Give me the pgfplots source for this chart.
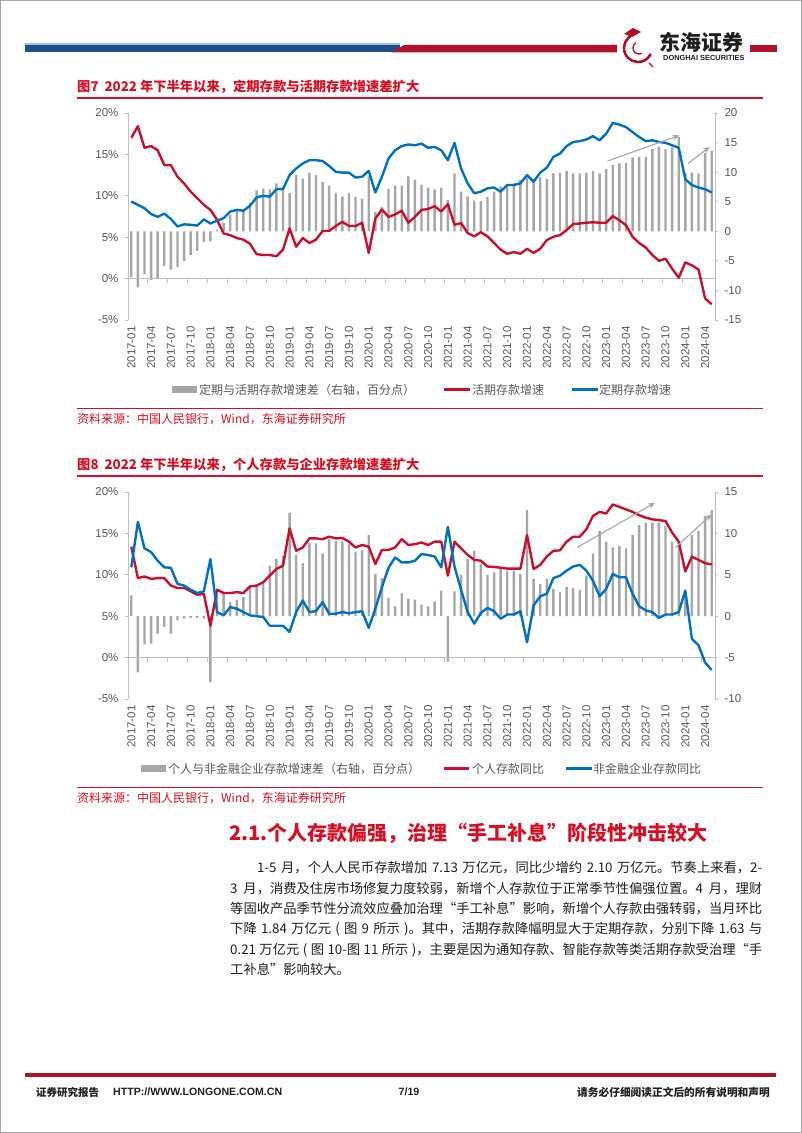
\documentclass[border=0pt]{standalone}
\usepackage{pgfplots}
\pgfplotsset{compat=1.18}
\usepackage{pgfplotstable}
\usepackage{fontspec}
\setmainfont{Liberation Sans}
\newfontfamily\cjk{Noto Sans CJK SC}
\usetikzlibrary{arrows.meta}
\XeTeXlinebreaklocale "zh"
\XeTeXlinebreakskip=0pt plus 1pt

\definecolor{cred}{HTML}{C8102E}
\definecolor{cblue}{HTML}{0070C0}
\definecolor{cbar}{HTML}{A6A6A6}
\definecolor{caxis}{HTML}{BFBFBF}
\definecolor{ctext}{HTML}{595959}
\definecolor{ctitle}{HTML}{D50F25}
\definecolor{hred}{HTML}{B0102A}
\definecolor{hblue}{HTML}{1F4E8C}
\definecolor{hlblue}{HTML}{9DC3E6}
\definecolor{cdark}{HTML}{1F1F1F}

\newcommand\fs[1]{\fontsize{#1}{#1}\selectfont}

% chart 7: spread (right axis), demand deposits, time deposits
\pgfplotstableread{
i bar red blue
0 -7.7 17.0 9.3
1 -9.5 18.4 8.9
2 -7.3 15.8 8.5
3 -8.2 16.0 7.8
4 -8.0 15.5 7.45
5 -5.9 13.7 7.85
6 -6.5 13.7 7.2
7 -6.0 12.3 6.3
8 -5.0 11.5 6.55
9 -4.0 10.5 6.5
10 -3.3 9.7 6.4
11 -1.8 8.9 7.15
12 -1.7 8.3 6.65
13 0.3 7.1 7.0
14 1.4 5.45 7.3
15 2.8 5.25 8.1
16 3.4 4.9 8.3
17 3.6 4.7 8.2
18 4.8 4.2 8.8
19 6.9 2.95 9.8
20 7.2 2.85 10.0
21 7.1 2.85 9.9
22 8.1 2.7 10.8
23 7.6 3.5 10.8
24 6.5 6.05 12.5
25 9.5 3.85 13.3
26 8.9 4.9 13.9
27 9.9 4.3 14.3
28 9.5 4.7 14.3
29 8.3 5.75 14.2
30 7.7 5.75 13.6
31 6.5 6.35 12.9
32 5.9 6.85 12.8
33 6.5 6.35 12.8
34 5.8 6.35 12.2
35 5.5 6.75 12.3
36 9.3 3.1 13.0
37 3.3 7.25 10.4
38 4.1 8.35 12.3
39 7.2 7.45 14.5
40 7.7 7.75 15.5
41 7.7 8.2 16.0
42 9.3 6.75 16.2
43 8.7 7.45 16.1
44 7.9 8.3 16.3
45 7.4 8.4 15.8
46 7.1 8.75 15.9
47 7.4 8.1 15.5
48 5.3 9.0 14.3
49 9.8 6.5 16.4
50 6.7 6.7 13.3
51 5.9 5.5 11.5
52 5.2 5.1 10.3
53 5.1 5.6 10.5
54 5.8 5.1 10.9
55 6.7 4.3 11.0
56 7.6 3.5 10.5
57 7.8 3.0 11.3
58 8.1 3.2 11.3
59 8.7 3.0 11.5
60 9.0 3.6 12.5
61 8.9 3.1 11.7
62 9.2 3.6 12.8
63 8.8 4.65 13.4
64 9.8 5.05 14.7
65 9.9 5.25 15.1
66 10.2 5.85 16.0
67 9.8 6.6 16.5
68 9.8 6.65 16.6
69 9.9 6.75 16.8
70 10.2 6.8 17.2
71 9.8 6.75 16.7
72 10.5 6.75 17.5
73 11.2 7.55 18.8
74 11.5 7.05 18.6
75 11.6 6.45 18.3
76 12.5 5.05 17.7
77 12.6 4.3 17.1
78 12.6 3.75 16.6
79 13.9 2.85 16.7
80 14.3 2.15 16.5
81 13.9 2.4 16.4
82 14.2 1.2 16.1
83 15.9 0.1 15.8
84 9.9 1.95 12.0
85 9.9 1.6 11.3
86 9.8 1.1 11.0
87 13.2 -2.4 10.8
88 13.6 -3.1 10.4
}\tabA

% chart 8: spread (right axis), household deposits, corporate deposits
\pgfplotstableread{
i bar red blue
0 2.5 13.4 10.9
1 -6.8 9.6 16.4
2 -3.4 9.8 13.2
3 -3.3 9.5 12.75
4 -2.1 9.6 11.7
5 -1.3 9.6 10.9
6 -2.1 8.7 10.85
7 -0.5 8.4 8.9
8 -0.3 8.4 8.7
9 -0.2 8.0 8.2
10 -0.2 7.6 7.8
11 -0.3 7.7 8.0
12 -8.0 3.85 11.9
13 2.7 8.2 5.5
14 2.7 7.8 5.1
15 1.7 7.8 6.1
16 2.0 7.9 5.9
17 2.3 7.8 5.5
18 3.5 8.6 5.1
19 3.7 8.7 5.0
20 4.2 9.1 4.9
21 6.1 9.9 3.85
22 6.9 10.7 3.85
23 7.3 11.1 3.85
24 12.5 15.6 3.1
25 7.4 12.9 5.5
26 6.4 13.3 6.9
27 8.9 14.4 5.5
28 8.8 14.4 5.6
29 7.6 14.3 6.7
30 9.3 14.6 5.3
31 9.1 14.4 5.3
32 9.0 14.45 5.5
33 8.7 14.0 5.35
34 7.8 13.3 5.5
35 8.0 13.6 5.6
36 9.8 13.4 3.6
37 5.1 11.3 5.9
38 4.6 13.0 8.5
39 2.2 13.0 10.85
40 1.2 13.3 12.1
41 2.8 14.3 11.5
42 2.1 13.6 11.5
43 2.0 13.7 11.7
44 1.4 13.9 12.5
45 1.2 13.6 12.4
46 1.8 14.0 12.2
47 3.1 14.0 10.9
48 -5.5 9.9 15.8
49 3.0 14.0 11.0
50 5.0 13.2 8.2
51 6.9 12.4 5.5
52 7.9 11.8 4.1
53 6.3 11.7 5.4
54 5.0 11.0 6.0
55 5.3 10.95 5.6
56 6.0 10.85 4.7
57 5.5 10.75 5.2
58 5.5 10.75 5.2
59 5.1 10.75 5.6
60 12.8 14.8 1.85
61 4.5 10.7 6.3
62 3.9 11.2 7.4
63 4.5 12.2 7.7
64 3.3 12.9 9.6
65 2.9 12.95 9.9
66 3.5 14.0 10.5
67 3.4 14.6 11.0
68 3.2 14.6 11.2
69 4.9 15.5 10.5
70 7.6 17.1 9.3
71 10.3 17.6 7.4
72 9.0 17.4 8.3
73 8.3 18.5 10.1
74 8.5 18.2 9.7
75 8.2 17.9 9.7
76 9.8 17.6 7.7
77 11.0 17.2 6.2
78 11.3 16.9 5.7
79 11.3 16.7 5.5
80 11.3 16.6 4.8
81 10.9 16.5 5.2
82 9.0 15.1 5.2
83 8.5 14.0 5.5
84 2.3 10.4 8.1
85 9.8 12.2 2.25
86 10.3 11.8 1.5
87 12.1 11.4 -0.6
88 12.8 11.25 -1.5
}\tabB

\tikzset{
  dline/.style={line width=2.4pt, line join=round},
  arr/.style={cbar, line width=1.1pt, -{Stealth[length=7pt,width=6pt]}},
}
\pgfplotsset{
  pagebase/.style={scale only axis, width=587pt, height=207pt,
    xmin=-0.5, xmax=88.5, anchor=south west,
    tick align=outside, major tick length=3pt,
    axis line style={-, caxis, line width=0.8pt},
    ytick style={caxis, line width=0.8pt},
    yticklabel style={font=\fs{11.5}, text=ctext}},
  lineax/.style={pagebase, clip=false,
    axis y line*=left, axis x line*=bottom,
    x axis line style={draw=none}, xtick style={draw=none},
    xtick={0,3,...,87},
    xticklabels={2017-01,2017-04,2017-07,2017-10,2018-01,2018-04,2018-07,2018-10,2019-01,2019-04,2019-07,2019-10,2020-01,2020-04,2020-07,2020-10,2021-01,2021-04,2021-07,2021-10,2022-01,2022-04,2022-07,2022-10,2023-01,2023-04,2023-07,2023-10,2024-01,2024-04},
    xticklabel style={rotate=90, anchor=east, font=\fs{11.5}, text=ctext},
    ymin=-5, ymax=20, ytick={-5,0,...,20},
    yticklabels={-5\%,0\%,5\%,10\%,15\%,20\%},
    yticklabel style={xshift=-3pt}},
  barax/.style={pagebase, axis x line=none, axis y line*=right,
    yticklabel style={xshift=3pt}},
}

\begin{document}
\begin{tikzpicture}
\path[use as bounding box, fill=white] (0,0) rectangle (802pt,1133pt);

% ---------- chart 7 ----------
\begin{axis}[barax, at={(128pt,813pt)}, ymin=-15, ymax=20, ytick={-15,-10,...,20},
  yticklabels={-15,-10,-5,0,5,10,15,20}]
  \addplot[ybar, bar width=2.4pt, bar shift=0pt, fill=cbar, draw=none] table[x=i,y=bar] {\tabA};
\end{axis}
\begin{axis}[lineax, at={(128pt,813pt)}]
  \draw[caxis, line width=0.8pt] (axis cs:-0.5,0) -- (axis cs:88.5,0);
  \pgfplotsinvokeforeach{-0.5,2.5,...,86.5}{\draw[caxis, line width=0.8pt] (axis cs:#1,0) -- ++(0pt,-4pt);}
  \addplot[dline, cred, no markers] table[x=i,y=red] {\tabA};
  \addplot[dline, cblue, no markers] table[x=i,y=blue] {\tabA};
  \draw[arr] (axis cs:72.2,14.2) -- (axis cs:83.1,17.3);
  \draw[arr] (axis cs:84.4,13.9) -- (axis cs:87.7,15.9);
\end{axis}

% ---------- chart 8 ----------
\begin{axis}[barax, at={(128pt,434pt)}, ymin=-10, ymax=15, ytick={-10,-5,...,15},
  yticklabels={-10,-5,0,5,10,15}]
  \addplot[ybar, bar width=2.4pt, bar shift=0pt, fill=cbar, draw=none] table[x=i,y=bar] {\tabB};
\end{axis}
\begin{axis}[lineax, at={(128pt,434pt)}]
  \draw[caxis, line width=0.8pt] (axis cs:-0.5,0) -- (axis cs:88.5,0);
  \pgfplotsinvokeforeach{-0.5,2.5,...,86.5}{\draw[caxis, line width=0.8pt] (axis cs:#1,0) -- ++(0pt,-4pt);}
  \addplot[dline, cred, no markers] table[x=i,y=red] {\tabB};
  \addplot[dline, cblue, no markers] table[x=i,y=blue] {\tabB};
  \draw[arr] (axis cs:67.6,13.3) -- (axis cs:79.4,18.7);
  \draw[arr] (axis cs:82.5,13.3) -- (axis cs:88.0,17.3);
\end{axis}

\begin{scope}[x=1pt, y=1pt]
% page frame
\draw[gray!70, line width=1pt] (0.5,0.5) rectangle (801.5,1132.5);

% header
\fill[hblue] (25,1080.5) rectangle (400,1088);
\fill[hlblue] (25,1088) rectangle (400,1089.5);
\fill[hred] (391,1080.5) -- (404,1088) -- (617,1088) -- (617,1080.5) -- cycle;
\fill[hred] (750,1080.5) rectangle (777,1088);
\draw[hred, line width=2.6pt] ([shift={(110:14)}]638,1085) arc[start angle=110, end angle=335, radius=14];
\draw[hred, line width=1.3pt] ([shift={(120:6)}]639,1085) arc[start angle=120, end angle=300, radius=6];
\fill[hred] (624,1099) -- (633,1105) -- (641,1101) -- (632,1096) -- cycle;
\draw[hred, line width=1.2pt] (649,1070) -- (653,1066);
\node[anchor=west, inner sep=0] at (659,1091) {\cjk\bfseries\fs{21}\color{cdark}东海证券};
\node[anchor=west, inner sep=0] at (663,1075) {\bfseries\fs{7.4}\color{cdark}DONGHAI SECURITIES};

% chart 7 title, legend, source
\node[anchor=west, inner sep=0] at (77,1046) {\cjk\bfseries\fs{13.3}\color{ctitle}图7\hspace{6pt}2022 年下半年以来，定期存款与活期存款增速差扩大};
\draw[ctitle, line width=1.6pt] (77,1035) -- (763,1035);
\fill[cbar] (172,739.5) rectangle (197,746.5);
\node[anchor=west, inner sep=0] at (199,743) {\cjk\fs{12}\color{ctext}定期与活期存款增速差（右轴，百分点）};
\draw[cred, line width=3pt] (444,743) -- (470,743);
\node[anchor=west, inner sep=0] at (472,743) {\cjk\fs{12}\color{ctext}活期存款增速};
\draw[cblue, line width=3pt] (572,743) -- (598,743);
\node[anchor=west, inner sep=0] at (599,743) {\cjk\fs{12}\color{ctext}定期存款增速};
\draw[ctitle, line width=0.9pt] (77,725) -- (763,725);
\node[anchor=west, inner sep=0] at (77,714) {\cjk\fs{12}\color{ctitle}资料来源：中国人民银行，Wind，东海证券研究所};

% chart 8 title, legend, source
\node[anchor=west, inner sep=0] at (77,668) {\cjk\bfseries\fs{13.3}\color{ctitle}图8\hspace{6pt}2022 年下半年以来，个人存款与企业存款增速差扩大};
\draw[ctitle, line width=1.6pt] (77,657) -- (763,657);
\fill[cbar] (141,360.5) rectangle (166,367.5);
\node[anchor=west, inner sep=0] at (168,364) {\cjk\fs{12}\color{ctext}个人与非金融企业存款增速差（右轴，百分点）};
\draw[cred, line width=3pt] (444,364) -- (469,364);
\node[anchor=west, inner sep=0] at (472,364) {\cjk\fs{12}\color{ctext}个人存款同比};
\draw[cblue, line width=3pt] (566,364) -- (592,364);
\node[anchor=west, inner sep=0] at (593,364) {\cjk\fs{12}\color{ctext}非金融企业存款同比};
\draw[ctitle, line width=0.9pt] (77,346) -- (763,346);
\node[anchor=west, inner sep=0] at (77,335) {\cjk\fs{12}\color{ctitle}资料来源：中国人民银行，Wind，东海证券研究所};

% section heading and text
\node[anchor=west, inner sep=0] at (229,300) {\cjk\bfseries\fs{20}\color{ctitle}2.1.个人存款偏强，治理“手工补息”阶段性冲击较大};
\begin{scope}[every node/.style={anchor=base west, inner sep=0, font=\cjk\fs{13.3}, text=cdark}]
\node at (230,260) {\makebox[532pt][s]{\hspace*{27pt}1-5 月，个人人民币存款增加 7.13 万亿元，同比少增约 2.10 万亿元。节奏上来看，2-}};
\node at (230,239.7) {\makebox[532pt][s]{3 月，消费及住房市场修复力度较弱，新增个人存款位于正常季节性偏强位置。4 月，理财}};
\node at (230,219.4) {\makebox[532pt][s]{等固收产品季节性分流效应叠加治理“手工补息”影响，新增个人存款由强转弱，当月环比}};
\node at (230,199.1) {\makebox[532pt][s]{下降 1.84 万亿元 ( 图 9 所示 )。其中，活期存款降幅明显大于定期存款，分别下降 1.63 与}};
\node at (230,178.8) {\makebox[532pt][s]{0.21 万亿元 ( 图 10-图 11 所示 )，主要是因为通知存款、智能存款等类活期存款受治理“手}};
\node at (230,158.5) {工补息”影响较大。};
\end{scope}

% footer
\fill[hred] (25,56) rectangle (776,60);
\node[anchor=west, inner sep=0] at (36,41) {\cjk\bfseries\fs{10.5}\color{cdark}证券研究报告};
\node[anchor=west, inner sep=0] at (113,41) {\bfseries\fs{10.6}\color{cdark}HTTP://WWW.LONGONE.COM.CN};
\node[inner sep=0] at (409,41) {\bfseries\fs{10.6}\color{cdark}7/19};
\node[anchor=east, inner sep=0] at (770,41) {\cjk\bfseries\fs{10.7}\color{cdark}请务必仔细阅读正文后的所有说明和声明};
\end{scope}
\end{tikzpicture}
\end{document}
